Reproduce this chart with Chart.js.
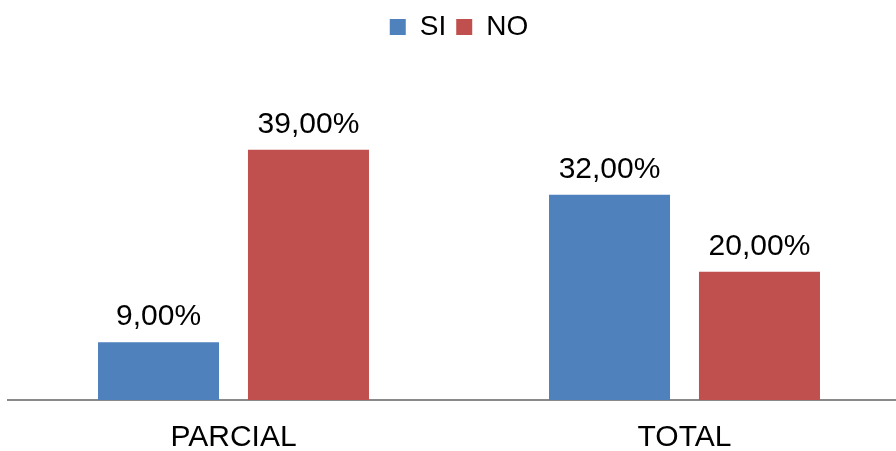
<!DOCTYPE html>
<html>
<head>
<meta charset="utf-8">
<script src="https://cdn.jsdelivr.net/npm/chart.js@4.4.1/dist/chart.umd.min.js"></script>
<style>
    html, body { margin: 0; padding: 0; background: #fff; overflow: hidden; }
    #wrap { width: 910px; height: 451px; position: relative; }
</style>
</head>
<body>
<div id="wrap"><canvas id="chart"></canvas></div>
<script>
// Chart data
const categories = ['PARCIAL', 'TOTAL'];
const siValues = [9, 32];
const noValues = [39, 20];
const seriesNames = ['SI', 'NO'];

const FONT = "'Liberation Sans', Arial, sans-serif";

// Percent labels above each bar (comma decimals)
const barLabels = {
    id: 'barLabels',
    afterDatasetsDraw(chart) {
        const ctx = chart.ctx;
        ctx.save();
        ctx.font = '30px ' + FONT;
        ctx.fillStyle = '#000';
        ctx.textAlign = 'center';
        ctx.textBaseline = 'alphabetic';
        chart.data.datasets.forEach((ds, i) => {
            chart.getDatasetMeta(i).data.forEach((bar, j) => {
                const txt = ds.data[j].toFixed(2).replace('.', ',') + '%';
                ctx.fillText(txt, bar.x, bar.y - 17);
            });
        });
        ctx.restore();
    }
};

const ctx = document.getElementById('chart').getContext('2d');
new Chart(ctx, {
    type: 'bar',
    data: {
        labels: categories,
        datasets: [
            { label: seriesNames[0], data: siValues, backgroundColor: '#4f81bd' },
            { label: seriesNames[1], data: noValues, backgroundColor: '#c0504d' }
        ]
    },
    options: {
        responsive: true,
        maintainAspectRatio: false,
        animation: false,
        layout: { padding: { top: 3, left: 8, right: 0, bottom: 0 } },
        datasets: {
            bar: { categoryPercentage: 0.665, barPercentage: 0.807 }
        },
        plugins: {
            legend: {
                position: 'top',
                labels: {
                    boxWidth: 16,
                    boxHeight: 16,
                    padding: 10,
                    color: '#000',
                    font: { family: FONT, size: 28 }
                }
            },
            tooltip: { enabled: false }
        },
        scales: {
            y: {
                display: false,
                min: 0,
                max: 54.4
            },
            x: {
                grid: { display: false, drawTicks: false },
                border: { display: true, color: '#898989', width: 2 },
                ticks: {
                    color: '#000',
                    padding: 23,
                    font: { family: FONT, size: 30, lineHeight: 1 }
                },
                afterFit: (scale) => { scale.height = 51; }
            }
        }
    },
    plugins: [barLabels]
});
</script>
</body>
</html>
